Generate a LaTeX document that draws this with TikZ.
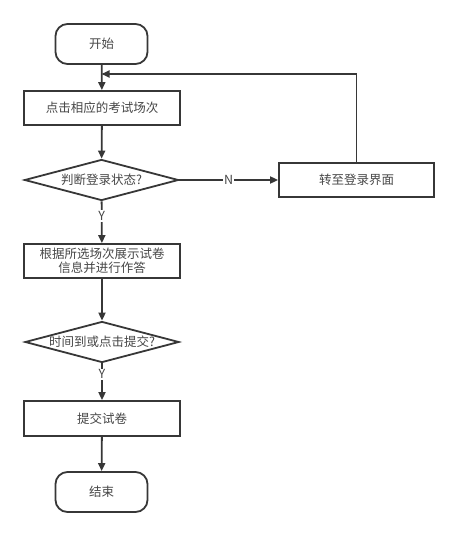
\documentclass[tikz,border=0pt]{standalone}
\usepackage{fontspec}
\newfontfamily\cjk{Noto Sans CJK SC}
\usepackage{tikz}
\usetikzlibrary{shapes.geometric}
\usetikzlibrary{arrows.meta}
\usetikzlibrary{positioning}
\definecolor{inkgray}{RGB}{55, 55, 55}
\definecolor{textgray}{RGB}{70, 70, 70}

\tikzset{
    stepbox/.style={draw=inkgray, line width=1.8pt, rectangle, minimum width=156pt, minimum height=34pt, inner sep=0pt},
    termbox/.style={draw=inkgray, line width=1.8pt, rectangle, rounded corners=12pt, minimum width=92pt, minimum height=40pt, inner sep=0pt},
    askbox/.style={draw=inkgray, line width=1.8pt, diamond, minimum width=154pt, minimum height=41pt, inner sep=0pt},
    flow/.style={draw=inkgray, line width=1.8pt, -{Triangle[length=8pt, width=7pt]}},
    tag/.style={fill=white, inner sep=1pt, text=textgray}
}

\begin{document}
\begin{tikzpicture}[x=1pt, y=-1pt, text=textgray, font=\cjk\fontsize{12.5}{14}\selectfont]
            % Frame to fix the margins
            \useasboundingbox (0, 0) rectangle (459, 538);
            % Main column
            \node[termbox] (start)  at (101.5,  44.0) {开始};
            \node[stepbox] (pick)   at (102.0, 108.0) {点击相应的考试场次};
            \node[askbox]  (login?) at (101.5, 180.0) {};
            \node          (login?text) at (login?) {判断登录状态?};
            \node[stepbox] (answer) at (102.0, 261.0) [align=center] {根据所选场次展示试卷\\信息并进行作答};
            \node[askbox]  (done?)  at (102.0, 342.0) {};
            \node          (done?text) at (done?) {时间到或点击提交?};
            \node[stepbox, minimum height=35pt] (submit) at (102.0, 418.5) {提交试卷};
            \node[termbox] (stop)   at (101.5, 492.0) {结束};
            % Side branch
            \node[stepbox, minimum width=155pt] (goto) at (356.5, 180.0) {转至登录界面};
            \coordinate (join) at (101.5, 74.0);
            % Connectors
            \draw[flow] (start)  -- (pick);
            \draw[flow] (pick)   -- (login?);
            \draw[flow] (login?) -- node[tag, pos=0.35] {Y} (answer);
            \draw[flow] (login?) -- node[tag] {N} (goto);
            \draw[flow] (goto)   |- (join);
            \draw[flow] (answer) -- (done?);
            \draw[flow] (done?)  -- node[tag, pos=0.3] {Y} (submit);
            \draw[flow] (submit) -- (stop);
\end{tikzpicture}
\end{document}
